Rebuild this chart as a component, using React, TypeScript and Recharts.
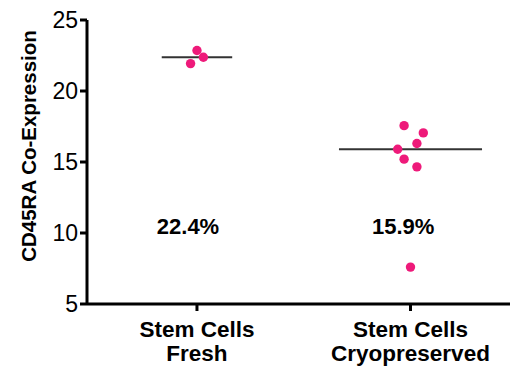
import React from "react";
import {
  ScatterChart,
  Scatter,
  XAxis,
  YAxis,
  ReferenceLine,
  ReferenceDot,
} from "recharts";

// 그룹 (x 위치 = 1, 2)
const groups = [1, 2];
const groupLabels = [
  ["Stem Cells", "Fresh"],
  ["Stem Cells", "Cryopreserved"],
];

// 개별 측정값 (x: 그룹 + 약간의 흩뿌림)
const freshX = [1.0, 1.03, 0.97];
const freshY = [22.85, 22.38, 21.93];
const cryoX = [1.97, 2.06, 2.03, 1.94, 1.97, 2.03, 2.0];
const cryoY = [17.56, 17.05, 16.3, 15.9, 15.2, 14.66, 7.6];

// 중앙값 선의 반폭
const medianHalfWidth = [0.165, 0.335];
// 퍼센트 텍스트 위치
const annotX = [0.958, 1.966];
const annotY = 10.45;

const yTicks = [5, 10, 15, 20, 25];

const FONT = "'Liberation Sans', Arial, sans-serif";
const PINK = "#EE1A7A";

const median = (arr: number[]) => {
  const s = [...arr].sort((a, b) => a - b);
  const m = Math.floor(s.length / 2);
  return s.length % 2 ? s[m] : (s[m - 1] + s[m]) / 2;
};

const freshData = freshX.map((x, i) => ({ x, y: freshY[i] }));
const cryoData = cryoX.map((x, i) => ({ x, y: cryoY[i] }));
const medians = [median(freshY), median(cryoY)];

const Dot = (props: any) => <circle cx={props.cx} cy={props.cy} r={4.7} fill={PINK} />;

const XTick = (props: any) => {
  const { x, y, payload } = props;
  const lines = groupLabels[payload.value - 1] || [];
  return (
    <text
      x={x}
      y={y}
      textAnchor="middle"
      fontFamily={FONT}
      fontWeight="bold"
      fontSize={22.5}
      fill="#000"
      stroke="none"
    >
      {lines.map((l, i) => (
        <tspan key={i} x={x} dy={24}>
          {l}
        </tspan>
      ))}
    </text>
  );
};

const YLabel = (props: any) => {
  const vb = props.viewBox || { x: 0, y: 20, width: 87, height: 284 };
  const cx = vb.x + 28;
  const cy = vb.y + vb.height / 2 - 16;
  return (
    <text
      x={cx}
      y={cy}
      transform={`rotate(-90, ${cx}, ${cy})`}
      textAnchor="middle"
      dominantBaseline="central"
      fontFamily={FONT}
      fontWeight="bold"
      fontSize={20.5}
      fill="#000"
    >
      CD45RA Co-Expression
    </text>
  );
};

const css = `
.recharts-cartesian-axis-line, .recharts-cartesian-axis-tick-line {
  stroke: #000 !important;
  stroke-width: 3px !important;
}
`;

export default function App() {
  return (
    <div style={{ position: "absolute", left: 0, top: 0, background: "#fff" }}>
      <style>{css}</style>
      <ScatterChart
        width={510}
        height={369}
        margin={{ top: 20, right: 0, bottom: 0, left: 0 }}
      >
        <XAxis
          type="number"
          dataKey="x"
          domain={[0.485, 2.466]}
          ticks={groups}
          allowDataOverflow
          height={65}
          tick={<XTick />}
          tickSize={7}
          tickMargin={2}
          stroke="#000"
          strokeWidth={3}
        />
        <YAxis
          type="number"
          dataKey="y"
          domain={[5, 25]}
          ticks={yTicks}
          width={87}
          tickSize={7}
          tickMargin={2}
          stroke="#000"
          strokeWidth={3}
          tick={{ fill: "#000", stroke: "none", fontSize: 23, fontFamily: FONT }}
          label={<YLabel />}
        />
        {groups.map((g, i) => (
          <ReferenceLine
            key={g}
            segment={[
              { x: g - medianHalfWidth[i], y: medians[i] },
              { x: g + medianHalfWidth[i], y: medians[i] },
            ]}
            stroke="#333"
            strokeWidth={2}
          />
        ))}
        <Scatter data={freshData} shape={<Dot />} isAnimationActive={false} />
        <Scatter data={cryoData} shape={<Dot />} isAnimationActive={false} />
        {groups.map((g, i) => (
          <ReferenceDot
            key={"a" + g}
            x={annotX[i]}
            y={annotY}
            r={0}
            shape={(p: any) => (
              <text
                x={p.cx}
                y={p.cy}
                textAnchor="middle"
                dominantBaseline="central"
                fontFamily={FONT}
                fontWeight="bold"
                fontSize={22}
                fill="#000"
              >
                {medians[i].toFixed(1) + "%"}
              </text>
            )}
          />
        ))}
      </ScatterChart>
    </div>
  );
}
